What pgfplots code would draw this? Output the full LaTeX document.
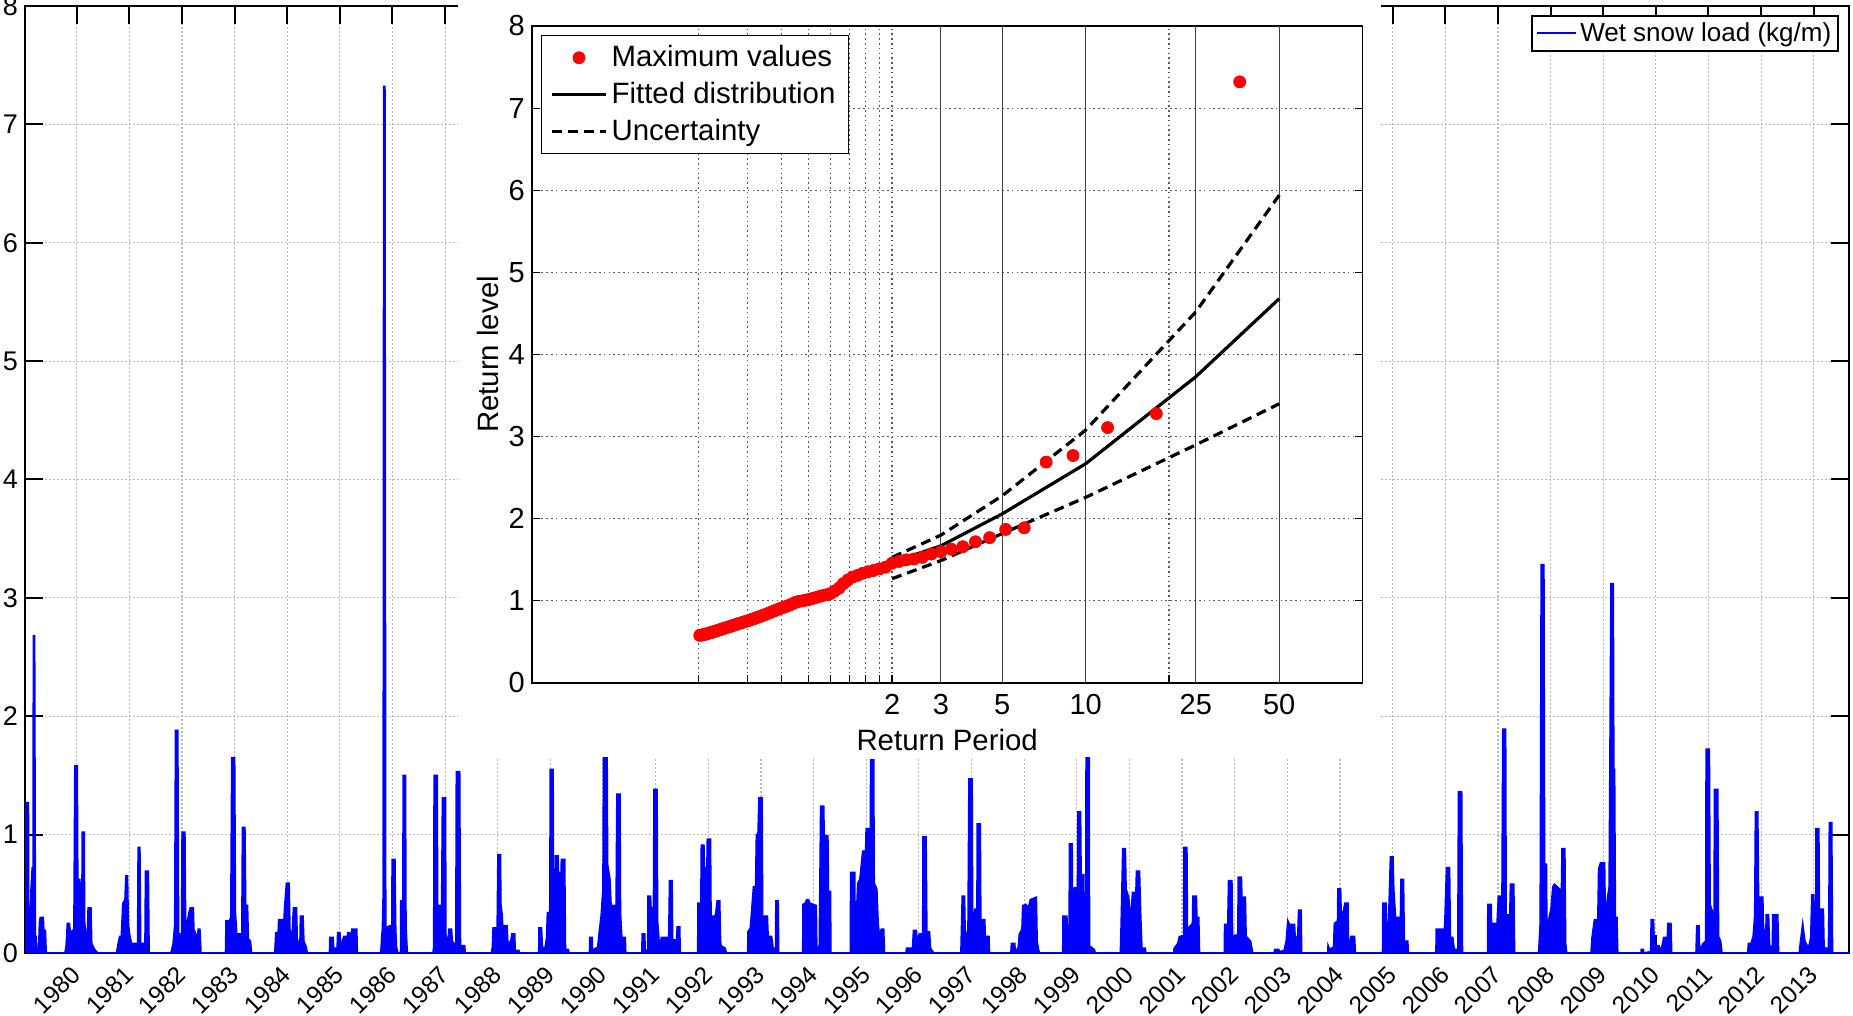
\documentclass[border=0pt]{standalone}
\usepackage{pgfplots}
\pgfplotsset{compat=1.18}
\usepackage{pgfplotstable}
\usepackage{fontspec}
\setmainfont{Liberation Sans}
\definecolor{mblue}{RGB}{0,0,255}
\definecolor{mred}{RGB}{255,0,0}
\pgfplotsset{/pgf/number format/assume math mode=true}

\pgfplotstableread{
t v
1979.019 1.27
1979.082 1.27
1979.090 0.03
1979.125 0.03
1979.133 0.52
1979.158 0.72
1979.175 0.72
1979.180 2.68
1979.200 2.68
1979.215 0.14
1979.228 0.14
1979.240 0.04
1979.280 0.04
1979.295 0.25
1979.310 0.30
1979.365 0.30
1979.375 0.19
1979.405 0.19
1979.420 0
1979.778 0
1979.800 0.05
1979.812 0.13
1979.825 0.25
1979.860 0.25
1979.880 0.17
1979.950 0.20
1979.968 1.58
1980.010 1.58
1980.020 0.62
1980.060 0.62
1980.080 0.17
1980.100 0.17
1980.108 1.02
1980.142 1.02
1980.150 0.27
1980.185 0.08
1980.200 0.08
1980.220 0.38
1980.270 0.38
1980.285 0.08
1980.340 0.03
1980.400 0
1980.759 0
1980.790 0.08
1980.820 0.14
1980.850 0.14
1980.880 0.42
1980.920 0.45
1980.937 0.65
1980.965 0.65
1980.980 0.25
1981.000 0.17
1981.040 0.08
1981.160 0.08
1981.170 0.89
1981.200 0.89
1981.215 0.08
1981.300 0.08
1981.310 0.69
1981.360 0.69
1981.375 0
1981.772 0
1981.800 0.01
1981.835 0.08
1981.865 0.24
1981.880 1.88
1981.920 1.88
1981.935 0.16
1981.995 0.16
1982.005 1.02
1982.055 1.02
1982.068 0.28
1982.100 0.25
1982.135 0.34
1982.160 0.38
1982.215 0.38
1982.225 0.20
1982.300 0.12
1982.310 0.20
1982.340 0.20
1982.360 0
1982.830 0
1982.840 0.27
1982.900 0.27
1982.930 0.30
1982.949 1.65
1983.000 1.65
1983.015 0.34
1983.040 0.16
1983.140 0.16
1983.152 1.06
1983.195 1.06
1983.210 0.40
1983.245 0.40
1983.260 0.12
1983.300 0.10
1983.320 0
1983.766 0
1983.785 0.17
1983.830 0.17
1983.840 0.28
1983.900 0.28
1983.920 0.08
1983.950 0.37
1983.987 0.59
1984.035 0.59
1984.050 0.20
1984.080 0.10
1984.100 0.20
1984.122 0.38
1984.175 0.38
1984.190 0.10
1984.245 0.10
1984.253 0.31
1984.300 0.31
1984.315 0.10
1984.360 0.05
1984.380 0
1984.805 0
1984.812 0.13
1984.870 0.13
1984.880 0.04
1984.950 0.04
1984.960 0.17
1985.000 0.17
1985.015 0.03
1985.050 0.10
1985.080 0.14
1985.130 0.14
1985.140 0.07
1985.150 0.17
1985.180 0.17
1985.200 0.10
1985.230 0.20
1985.320 0.20
1985.330 0
1985.780 0
1985.800 0.15
1985.810 0.20
1985.825 0.50
1985.835 7.32
1985.855 7.32
1985.870 0.21
1985.950 0.23
1985.990 0.23
1985.995 0.79
1986.045 0.79
1986.060 0.20
1986.075 0.05
1986.100 0
1986.155 0
1986.160 0.44
1986.200 0.44
1986.205 1.50
1986.245 1.50
1986.255 0.23
1986.280 0
1986.770 0
1986.785 0.05
1986.793 1.50
1986.848 1.50
1986.856 0.40
1986.900 0.40
1986.930 0.06
1986.951 1.31
1987.005 1.31
1987.014 0.14
1987.060 0.12
1987.075 0.20
1987.120 0.20
1987.135 0.10
1987.205 0.06
1987.215 1.53
1987.275 1.53
1987.290 0.06
1987.370 0.06
1987.380 0
1987.880 0
1987.900 0.05
1987.913 0.21
1987.965 0.21
1987.990 0.18
1988.005 0.83
1988.050 0.83
1988.058 0.41
1988.080 0.33
1988.100 0.17
1988.120 0.23
1988.175 0.23
1988.190 0.08
1988.250 0.10
1988.270 0.16
1988.320 0.16
1988.330 0.02
1988.400 0.02
1988.410 0
1988.780 0
1988.786 0.21
1988.830 0.21
1988.845 0.05
1988.900 0.04
1988.930 0.13
1988.945 0.34
1988.990 0.34
1989.000 1.55
1989.050 1.55
1989.058 0.40
1989.090 0.45
1989.097 0.82
1989.145 0.82
1989.155 0.45
1989.175 0.68
1989.205 0.68
1989.210 0.79
1989.270 0.79
1989.285 0.03
1989.340 0.03
1989.350 0
1989.745 0
1989.748 0.13
1989.790 0.13
1989.800 0.02
1989.900 0.05
1989.935 0.20
1989.965 0.31
1990.000 0.54
1990.012 1.77
1990.075 1.77
1990.085 0.75
1990.130 0.62
1990.160 0.31
1990.185 0.40
1990.250 0.40
1990.265 1.34
1990.320 1.34
1990.330 0.34
1990.355 0.13
1990.420 0.13
1990.430 0
1990.740 0
1990.745 0.16
1990.790 0.16
1990.800 0.02
1990.850 0.02
1990.856 0.48
1990.900 0.48
1990.910 0.38
1990.960 0.38
1990.970 1.38
1991.025 1.38
1991.035 0.27
1991.075 0.03
1991.110 0.13
1991.250 0.13
1991.265 0.61
1991.310 0.61
1991.320 0.11
1991.400 0.11
1991.410 0.22
1991.455 0.22
1991.465 0
1991.800 0
1991.806 0.42
1991.860 0.42
1991.869 0.91
1991.915 0.91
1991.925 0.72
1991.975 0.72
1991.983 0.96
1992.040 0.96
1992.050 0.31
1992.130 0.31
1992.145 0.34
1992.170 0.44
1992.215 0.44
1992.230 0.11
1992.240 0.06
1992.320 0.04
1992.340 0
1992.750 0
1992.755 0.18
1992.800 0.21
1992.860 0.56
1992.900 0.56
1992.915 1.00
1992.945 1.00
1992.965 1.31
1993.020 1.31
1993.030 0.31
1993.120 0.31
1993.135 0.14
1993.200 0.14
1993.230 0.04
1993.280 0.04
1993.285 0.44
1993.325 0.44
1993.335 0
1993.795 0
1993.801 0.41
1993.840 0.42
1993.870 0.45
1993.900 0.45
1993.930 0.42
1994.050 0.40
1994.060 0.02
1994.110 0.06
1994.136 1.24
1994.190 1.24
1994.200 0.99
1994.270 0.99
1994.280 0.52
1994.320 0.52
1994.326 0
1994.700 0
1994.706 0.68
1994.780 0.68
1994.790 0.02
1994.810 0.25
1994.840 0.59
1994.880 0.62
1994.935 0.86
1994.990 0.86
1995.000 1.05
1995.080 1.05
1995.086 1.63
1995.140 1.63
1995.150 0.59
1995.200 0.54
1995.225 0.25
1995.250 0.14
1995.288 0.20
1995.330 0.20
1995.345 0
1995.760 0
1995.765 0.04
1995.880 0.04
1995.900 0.19
1995.950 0.19
1995.965 0.10
1996.010 0.16
1996.075 0.16
1996.080 0.98
1996.135 0.98
1996.150 0.18
1996.200 0.18
1996.220 0.04
1996.280 0
1996.800 0
1996.826 0.48
1996.865 0.48
1996.880 0.12
1996.935 0.20
1996.953 1.47
1997.010 1.47
1997.020 0.20
1997.065 0.37
1997.105 0.37
1997.111 1.09
1997.165 1.09
1997.175 0.28
1997.250 0.28
1997.260 0.14
1997.330 0.14
1997.340 0
1997.750 0
1997.760 0.08
1997.820 0.08
1997.830 0
1997.890 0.05
1997.910 0.16
1997.960 0.20
1997.975 0.40
1998.030 0.41
1998.080 0.38
1998.120 0.45
1998.230 0.47
1998.245 0.10
1998.270 0.03
1998.290 0
1998.735 0
1998.740 0.31
1998.810 0.31
1998.825 0.13
1998.855 0.13
1998.864 0.92
1998.910 0.92
1998.920 0.13
1998.955 0.55
1999.015 0.55
1999.022 1.19
1999.070 1.19
1999.080 0.66
1999.130 0.66
1999.145 0.13
1999.175 0.13
1999.180 2.77
1999.230 2.77
1999.240 0.06
1999.330 0.03
1999.350 0
1999.830 0
1999.845 0.25
1999.875 0.88
1999.920 0.88
1999.935 0.54
1999.985 0.47
2000.020 0.25
2000.060 0.51
2000.125 0.51
2000.135 0.69
2000.190 0.69
2000.210 0.35
2000.235 0.04
2000.300 0.04
2000.310 0
2000.845 0
2000.850 0.04
2000.920 0.08
2000.950 0.14
2001.030 0.14
2001.038 0.89
2001.090 0.89
2001.100 0.20
2001.200 0.25
2001.208 0.48
2001.270 0.48
2001.280 0.30
2001.315 0.30
2001.330 0
2001.805 0
2001.810 0.24
2001.870 0.24
2001.885 0.61
2001.945 0.61
2001.960 0.07
2002.000 0.15
2002.060 0.15
2002.070 0.64
2002.125 0.64
2002.135 0.47
2002.200 0.47
2002.215 0.14
2002.300 0.10
2002.340 0
2002.755 0
2002.760 0.03
2002.835 0.03
2002.845 0.01
2002.940 0.02
2002.980 0.10
2003.010 0.27
2003.040 0.24
2003.135 0.24
2003.150 0.10
2003.200 0.15
2003.215 0.36
2003.260 0.36
2003.270 0
2003.770 0
2003.775 0.06
2003.800 0.03
2003.880 0.05
2003.895 0.25
2003.955 0.27
2003.962 0.54
2004.010 0.54
2004.020 0.35
2004.060 0.34
2004.095 0.42
2004.150 0.42
2004.160 0.02
2004.210 0.14
2004.275 0.14
2004.290 0
2004.810 0
2004.816 0.42
2004.875 0.42
2004.890 0.06
2004.920 0.20
2004.960 0.81
2005.005 0.81
2005.020 0.54
2005.060 0.25
2005.085 0.30
2005.130 0.30
2005.145 0.10
2005.160 0.62
2005.205 0.62
2005.220 0.10
2005.285 0.10
2005.300 0
2005.825 0
2005.830 0.20
2005.985 0.20
2005.995 0.28
2006.025 0.72
2006.080 0.72
2006.095 0.13
2006.140 0.13
2006.170 0.03
2006.240 0.03
2006.253 1.36
2006.310 1.36
2006.325 0
2006.805 0
2006.811 0.41
2006.870 0.41
2006.885 0.06
2006.915 0.25
2006.965 0.25
2006.980 0.20
2007.010 0.48
2007.060 0.48
2007.075 0.10
2007.095 1.89
2007.145 1.89
2007.155 0.32
2007.205 0.32
2007.215 0.06
2007.240 0.58
2007.300 0.58
2007.315 0
2007.775 0
2007.805 0.25
2007.824 3.28
2007.872 3.28
2007.885 0.75
2007.920 0.75
2007.930 0.14
2007.950 0.25
2007.980 0.31
2008.010 0.37
2008.045 0.56
2008.075 0.58
2008.170 0.54
2008.200 0.25
2008.220 0.88
2008.270 0.88
2008.285 0.08
2008.305 0
2008.770 0
2008.790 0.13
2008.835 0.28
2008.900 0.28
2008.915 0.71
2008.950 0.76
2009.025 0.76
2009.040 0.28
2009.085 0.47
2009.115 0.56
2009.150 3.12
2009.190 3.12
2009.200 1.55
2009.215 1.55
2009.230 0.30
2009.260 0.30
2009.275 0
2009.720 0
2009.725 0.03
2009.760 0.03
2009.770 0
2009.905 0.01
2009.913 0.28
2009.955 0.28
2009.965 0.14
2009.990 0.02
2010.010 0.06
2010.060 0.06
2010.080 0.01
2010.120 0.06
2010.150 0.13
2010.220 0.13
2010.230 0.25
2010.285 0.25
2010.300 0
2010.765 0
2010.780 0.23
2010.818 0.23
2010.830 0.02
2010.900 0.08
2010.950 0.10
2010.957 1.72
2011.015 1.72
2011.030 0.41
2011.080 0.34
2011.110 0.34
2011.115 1.38
2011.175 1.38
2011.190 0.14
2011.230 0.10
2011.255 0
2011.745 0
2011.761 0.08
2011.810 0.08
2011.850 0.14
2011.880 0.31
2011.894 1.19
2011.935 1.19
2011.950 0.47
2012.030 0.47
2012.045 0.21
2012.090 0.14
2012.100 0.32
2012.140 0.32
2012.160 0.06
2012.215 0.05
2012.223 0.32
2012.315 0.32
2012.330 0
2012.725 0
2012.740 0.06
2012.790 0.24
2012.830 0.10
2012.900 0.04
2012.945 0.13
2012.965 0.49
2013.000 0.49
2013.010 0.22
2013.040 0.20
2013.045 1.05
2013.095 1.05
2013.105 0.37
2013.180 0.37
2013.195 0.04
2013.280 0.04
2013.290 0.34
2013.298 1.10
2013.340 1.10
2013.355 0
2013.670 0
}\snow

\pgfplotstableread{
T v
36 7.32
18 3.28
12 3.11
9 2.77
7.2 2.69
6 1.89
5.143 1.87
4.5 1.77
4 1.72
3.6 1.66
3.273 1.63
3 1.60
2.769 1.57
2.571 1.53
2.4 1.51
2.25 1.50
2.118 1.48
2 1.46
1.895 1.41
1.8 1.39
1.714 1.37
1.636 1.355
1.565 1.335
1.5 1.31
1.44 1.29
1.385 1.255
1.333 1.21
1.286 1.155
1.241 1.12
1.2 1.09
1.161 1.075
1.125 1.065
1.091 1.053
1.059 1.04
1.029 1.028
1.0 1.016
0.973 1.008
0.947 1.0
0.923 0.994
0.9 0.985
0.878 0.968
0.857 0.952
0.837 0.937
0.818 0.925
0.8 0.915
0.783 0.904
0.766 0.89
0.75 0.878
0.735 0.866
0.72 0.853
0.706 0.842
0.692 0.83
0.679 0.82
0.667 0.81
0.655 0.80
0.643 0.79
0.632 0.782
0.621 0.773
0.610 0.764
0.6 0.756
0.590 0.748
0.581 0.741
0.571 0.733
0.5625 0.726
0.554 0.719
0.545 0.711
0.537 0.704
0.529 0.697
0.522 0.69
0.514 0.683
0.507 0.676
0.5 0.67
0.493 0.664
0.486 0.657
0.48 0.651
0.474 0.645
0.468 0.639
0.462 0.633
0.456 0.627
0.45 0.621
0.444 0.615
0.439 0.61
0.434 0.605
0.429 0.60
0.424 0.595
0.419 0.59
0.414 0.587
0.409 0.583
0.404 0.58
}\maxvals

\pgfplotstableread{
T fit up lo
2 1.47 1.53 1.27
3 1.67 1.80 1.49
5 2.06 2.28 1.82
10 2.67 3.08 2.26
25 3.73 4.52 2.90
50 4.68 5.94 3.40
}\fitted

\begin{document}
\begin{tikzpicture}
\begin{axis}[
  at={(0pt,0pt)}, anchor=south west,
  scale only axis, width=912pt, height=473.5pt,
  xmin=1979.019, xmax=2013.67, ymin=0, ymax=8,
  xtick={1980,1981,...,2013},
  xticklabels={1980,1981,1982,1983,1984,1985,1986,1987,1988,1989,1990,1991,1992,1993,1994,1995,1996,1997,1998,1999,2000,2001,2002,2003,2004,2005,2006,2007,2008,2009,2010,2011,2012,2013},
  ytick={0,1,...,8},
  xticklabel style={rotate=45, anchor=north east, font=\fontsize{12.2}{14}\selectfont, inner sep=0.8pt, yshift=-0.8pt, xshift=-5.5pt},
  yticklabel style={font=\fontsize{13.5}{16}\selectfont},
  tick align=inside, major tick length=9pt,
  tick style={black, line width=1pt},
  axis line style={black, line width=1pt},
  grid=major,
  major grid style={gray!55, line width=0.6pt, dash pattern=on 0.8pt off 1.2pt},
  legend style={at={(1,1)}, anchor=north east, xshift=-5pt, yshift=-4.5pt,
    font=\fontsize{13}{15}\selectfont, draw=black, line width=0.8pt,
    inner xsep=2pt, inner ysep=1.8pt, nodes={inner sep=1.5pt}},
  legend image code/.code={\draw[mblue, line width=1pt] (0pt,0pt) -- (19.5pt,0pt);},
]
\addplot[draw=mblue, fill=mblue, line width=0.9pt] table[x=t, y=v] {\snow} \closedcycle;
\addlegendentry{Wet snow load (kg/m)}
\end{axis}

\fill[white] (216.5pt,98pt) rectangle (678pt,480pt);

\begin{axis}[
  at={(253.4pt,135pt)}, anchor=south west,
  scale only axis, width=415.4pt, height=328.5pt,
  xmode=log, xmin=0.1, xmax=100, ymin=0, ymax=8,
  xtick={0.4,0.6,0.8,1,1.2,1.4,1.6,1.8,2,20},
  xticklabels={},
  minor xtick={},
  extra x ticks={2,3,5,10,25,50},
  extra x tick labels={2,3,5,10,25,50},
  extra x tick style={grid=none},
  ytick={0,1,...,8},
  xtick pos=bottom,
  tick align=inside, major tick length=4pt,
  tick style={black, line width=0.6pt},
  axis line style={black, line width=0.8pt},
  grid=major,
  major grid style={black!65, line width=0.6pt, dash pattern=on 0.8pt off 1.6pt},
  axis background/.style={fill=white},
  tick label style={font=\fontsize{14.5}{17}\selectfont},
  xticklabel style={yshift=-2pt},
  xlabel={Return Period}, ylabel={Return level},
  label style={font=\fontsize{14.7}{17}\selectfont},
  xlabel style={at={(axis description cs:0.5,-0.102)}, anchor=base},
  ylabel style={at={(axis description cs:-0.0397,0.5)}, anchor=base},
  legend style={at={(0,1)}, anchor=north west, xshift=4.5pt, yshift=-4.5pt,
    font=\fontsize{14.7}{17}\selectfont, draw=black, line width=0.6pt,
    inner xsep=4.5pt, inner ysep=3pt, nodes={inner sep=2pt}, row sep=2.3pt},
  legend cell align=left,
  legend image code/.code={\draw[#1] (0pt,0pt) -- (27pt,0pt);},
]
\addplot[black!75, line width=0.6pt, forget plot] coordinates {(3,0) (3,8)};
\addplot[black!75, line width=0.6pt, forget plot] coordinates {(5,0) (5,8)};
\addplot[black!75, line width=0.6pt, forget plot] coordinates {(10,0) (10,8)};
\addplot[black!75, line width=0.6pt, forget plot] coordinates {(25,0) (25,8)};
\addplot[black!75, line width=0.6pt, forget plot] coordinates {(50,0) (50,8)};
\addplot[only marks, mark=*, mark size=3pt, color=mred, mark options={draw=mred, fill=mred},
  legend image code/.code={\fill[mred] (13.5pt,0pt) circle (2.9pt);}] table[x=T, y=v] {\maxvals};
\addlegendentry{Maximum values}
\addplot[black, line width=1.6pt] table[x=T, y=fit] {\fitted};
\addlegendentry{Fitted distribution}
\addplot[black, line width=1.6pt, dash pattern=on 5pt off 3pt] table[x=T, y=up] {\fitted};
\addlegendentry{Uncertainty}
\addplot[black, line width=1.6pt, dash pattern=on 5pt off 3pt, forget plot] table[x=T, y=lo] {\fitted};
\end{axis}

\pgfresetboundingbox
\path[use as bounding box] (-12.5pt,-31.5pt) rectangle (914pt,476.5pt);
\end{tikzpicture}
\end{document}
